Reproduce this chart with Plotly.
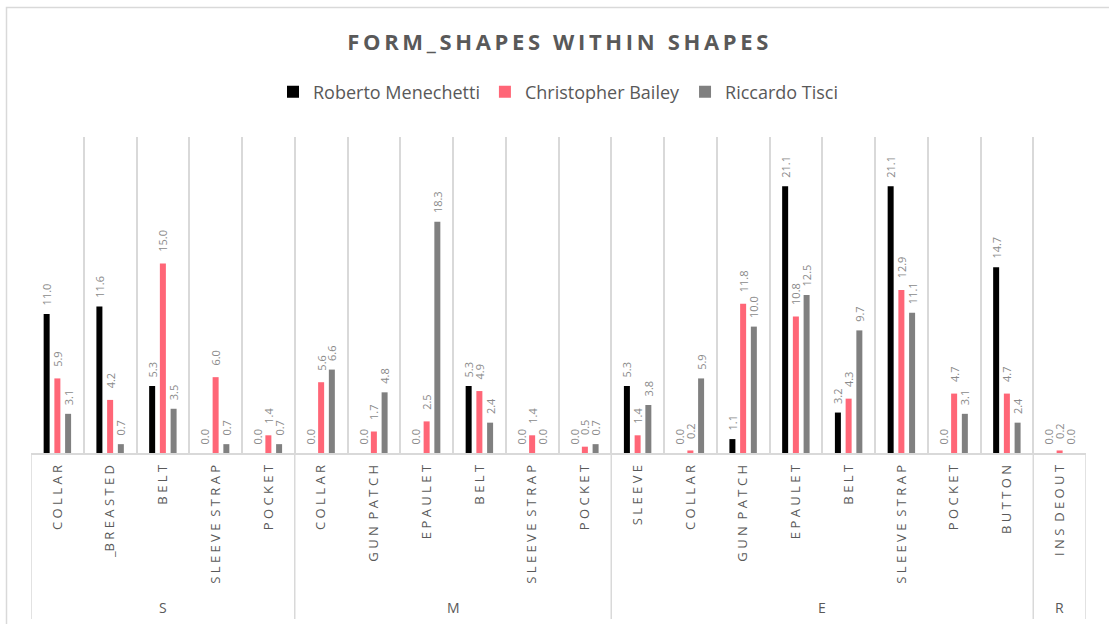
import plotly.graph_objects as go

# Categories (grouped by section)
sections = ["S", "M", "E", "R"]
section_items = [
    ["COLLAR", "_BREASTED", "BELT", "SLEEVE STRAP", "POCKET"],
    ["COLLAR", "GUN PATCH", "EPAULET", "BELT", "SLEEVE STRAP", "POCKET"],
    ["SLEEVE", "COLLAR", "GUN PATCH", "EPAULET", "BELT", "SLEEVE STRAP", "POCKET", "BUTTON"],
    ["INS DEOUT"],
]

series_names = ["Roberto Menechetti", "Christopher Bailey", "Riccardo Tisci"]
roberto = [11.0, 11.6, 5.3, 0.0, 0.0,
           0.0, 0.0, 0.0, 5.3, 0.0, 0.0,
           5.3, 0.0, 1.1, 21.1, 3.2, 21.1, 0.0, 14.7,
           0.0]
christopher = [5.9, 4.2, 15.0, 6.0, 1.4,
               5.6, 1.7, 2.5, 4.9, 1.4, 0.5,
               1.4, 0.2, 11.8, 10.8, 4.3, 12.9, 4.7, 4.7,
               0.2]
riccardo = [3.1, 0.7, 3.5, 0.7, 0.7,
            6.6, 4.8, 18.3, 2.4, 0.0, 0.7,
            3.8, 5.9, 10.0, 12.5, 9.7, 11.1, 3.1, 2.4,
            0.0]
series_values = [roberto, christopher, riccardo]
series_colors = ["#000000", "#FF6677", "#808080"]

title_text = "FORM_SHAPES WITHIN SHAPES"

FONT = "Open Sans, Lato, sans-serif"
TEXT_GREY = "#595959"
GRID = "#D9D9D9"


def spaced(s, sep=" ", word_sep="\u00a0 "):
    """Letter-space a label by putting a separator between its characters."""
    words = s.split(" ")
    return word_sep.join(sep.join(w) for w in words)


categories = [item for items in section_items for item in items]
x_idx = list(range(len(categories)))
tick_labels = [spaced(c).replace("_ B", "_B") for c in categories]

fig = go.Figure()
for name, vals, color in zip(series_names, series_values, series_colors):
    fig.add_trace(go.Bar(
        x=x_idx, y=vals, name=name,
        marker=dict(color=color, line=dict(width=0)),
        text=[f"{v:.1f}" for v in vals],
        texttemplate="\u00a0\u00a0\u00a0%{text}",
        textposition="outside", textangle=-90,
        constraintext="none", cliponaxis=False,
        textfont=dict(family=FONT, size=11, color="#8A8A8A"),
        hoverinfo="skip",
    ))

# Section dividers below the axis and section labels
shapes = []
annotations = []
start = 0
bounds = [-0.5]
for sec, items in zip(sections, section_items):
    end = start + len(items)
    bounds.append(end - 0.5)
    annotations.append(dict(
        x=(start + end - 1) / 2, y=-0.49, xref="x", yref="paper",
        text=sec, showarrow=False, yanchor="middle",
        font=dict(family=FONT, size=14, color=TEXT_GREY),
    ))
    start = end
for b in bounds:
    shapes.append(dict(type="line", xref="x", yref="paper",
                       x0=b, x1=b, y0=0, y1=-0.525,
                       line=dict(color=GRID, width=1.5)))

# Outer chart frame
shapes.append(dict(type="rect", xref="paper", yref="paper",
                   x0=(6.5 - 31) / 1055, x1=(1125 - 31) / 1055,
                   y0=-0.6, y1=1 + (137 - 7.5) / 316,
                   line=dict(color=GRID, width=1.5), fillcolor="rgba(0,0,0,0)",
                   layer="below"))

fig.update_layout(
    width=1109, height=624,
    margin=dict(l=31, r=23, t=137, b=171),
    paper_bgcolor="white", plot_bgcolor="white",
    barmode="group", bargap=0.39, bargroupgap=0.44,
    title=dict(text="<b>" + spaced(title_text, "\u2009", "\u2009\u00a0\u2009") + "</b>",
               x=0.503, xanchor="center", y=1 - 42 / 624, yanchor="middle",
               font=dict(family=FONT, size=22, color=TEXT_GREY)),
    legend=dict(orientation="h", x=0.5, xanchor="center",
                y=1 + (137 - 92) / 316, yanchor="middle",
                font=dict(family=FONT, size=18, color=TEXT_GREY),
                itemwidth=30, tracegroupgap=0, traceorder="normal"),
    showlegend=True,
    xaxis=dict(
        range=[-0.5, len(categories) - 0.5],
        tickmode="array", tickvals=x_idx, ticktext=tick_labels,
        tickangle=-90, ticks="", ticklabelstandoff=5,
        tickfont=dict(family=FONT, size=13, color=TEXT_GREY),
        showgrid=False, zeroline=False,
        showline=True, linecolor=GRID, linewidth=1.5,
        minor=dict(tick0=-0.5, dtick=1, showgrid=True, gridcolor=GRID,
                   gridwidth=1.5, ticks=""),
        fixedrange=True,
    ),
    yaxis=dict(range=[0, 25], visible=False, showgrid=False,
               zeroline=False, fixedrange=True),
    shapes=shapes, annotations=annotations,
)

fig.write_html("out.html")
